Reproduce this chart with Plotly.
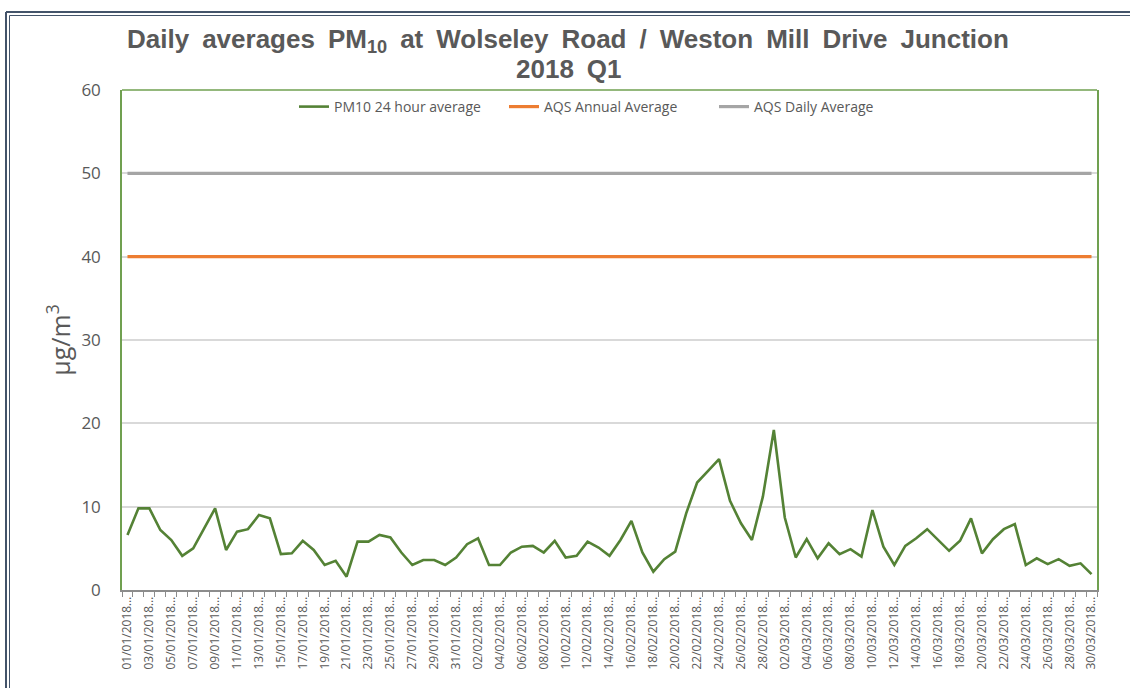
import pandas as pd
import plotly.graph_objects as go

# ---- data ----
dates = [d.strftime("%d/%m/%Y") for d in pd.date_range("2018-01-01", "2018-03-30", freq="D")]

pm10 = [
    6.6, 9.8, 9.8, 7.2, 6.0, 4.1, 5.0, 7.4, 9.8, 4.8,
    7.0, 7.3, 9.0, 8.6, 4.3, 4.4, 5.9, 4.8, 3.0, 3.5,
    1.6, 5.8, 5.8, 6.6, 6.3, 4.5, 3.0, 3.6, 3.6, 3.0,
    3.9, 5.5, 6.2, 3.0, 3.0, 4.5, 5.2, 5.3, 4.5, 5.9,
    3.9, 4.1, 5.8, 5.1, 4.1, 6.0, 8.3, 4.5, 2.2, 3.7,
    4.6, 9.2, 12.9, 14.3, 15.7, 10.7, 8.0, 6.0, 11.2, 19.2,
    8.7, 3.9, 6.1, 3.8, 5.6, 4.3, 4.9, 4.0, 9.6, 5.2,
    3.0, 5.3, 6.2, 7.3, 6.0, 4.7, 5.9, 8.6, 4.4, 6.1,
    7.3, 7.9, 3.0, 3.8, 3.1, 3.7, 2.9, 3.2, 1.9,
]
aqs_annual = [40] * len(dates)
aqs_daily = [50] * len(dates)

tick_text = [d + "\u2026" if i % 2 == 0 else "" for i, d in enumerate(dates)]

title_line1 = "Daily averages PM<sub>10</sub> at Wolseley Road / Weston Mill Drive Junction"
title_line2 = "2018 Q1"

GREEN = "#548235"
ORANGE = "#ED7D31"
GREY = "#A5A5A5"
TXT = "#595959"
FRAME = "#44546A"
BORDER = "#70A050"

fig = go.Figure()
fig.add_trace(go.Scatter(x=dates, y=pm10, mode="lines", name="PM10 24 hour average",
                         line=dict(color=GREEN, width=2.6)))
fig.add_trace(go.Scatter(x=dates, y=aqs_annual, mode="lines", name="AQS Annual Average",
                         line=dict(color=ORANGE, width=3.2)))
fig.add_trace(go.Scatter(x=dates, y=aqs_daily, mode="lines", name="AQS Daily Average",
                         line=dict(color=GREY, width=3.2)))

L, R, T, B = 122, 1097, 90, 590
W, H = 1130, 688
pw, ph = R - L, B - T


def px(x):
    return (x - L) / pw


def py(y):
    return (B - y) / ph


shapes = [
    # plot area top border
    dict(type="line", xref="paper", yref="paper", x0=0, x1=1, y0=1, y1=1,
         line=dict(color=BORDER, width=1.5)),
    # outer double frame (left + top)
    dict(type="line", xref="paper", yref="paper", x0=px(6), x1=px(6), y0=py(12), y1=py(720),
         line=dict(color=FRAME, width=2)),
    dict(type="line", xref="paper", yref="paper", x0=px(9.5), x1=px(9.5), y0=py(15.5), y1=py(720),
         line=dict(color=FRAME, width=1)),
    dict(type="line", xref="paper", yref="paper", x0=px(6), x1=px(1140), y0=py(12), y1=py(12),
         line=dict(color=FRAME, width=2)),
    dict(type="line", xref="paper", yref="paper", x0=px(9.5), x1=px(1140), y0=py(15.5), y1=py(15.5),
         line=dict(color=FRAME, width=1)),
]

title_font = dict(family="Liberation Sans, Arial, sans-serif", size=26, color=TXT)
annotations = [
    dict(text="<b>" + title_line1.replace(" ", "\u2002") + "</b>", xref="paper", yref="paper",
         x=px(568), y=py(41), xanchor="center", yanchor="middle", showarrow=False, font=title_font),
    dict(text="<b>" + title_line2.replace(" ", "\u2002") + "</b>", xref="paper", yref="paper",
         x=px(569), y=py(69), xanchor="center", yanchor="middle", showarrow=False, font=title_font),
]

fig.update_layout(
    width=W, height=H,
    margin=dict(l=L, r=W - R, t=T, b=H - B),
    paper_bgcolor="white", plot_bgcolor="white",
    font=dict(family="Open Sans, Noto Sans, sans-serif", color=TXT),
    showlegend=True,
    legend=dict(orientation="h", x=px(609), xanchor="center", y=py(107), yanchor="middle",
                font=dict(size=14, color=TXT), bgcolor="rgba(0,0,0,0)",
                itemwidth=30, entrywidth=165, entrywidthmode="pixels"),
    shapes=shapes,
    annotations=annotations,
)

fig.update_xaxes(
    type="category",
    tickmode="array", tickvals=dates, ticktext=tick_text,
    tickangle=-90, tickfont=dict(size=12, color=TXT),
    ticks="outside", ticklen=5, tickcolor="#8C8C8C", tickson="boundaries",
    showline=True, linecolor="#8C8C8C", linewidth=1.5,
    showgrid=False, zeroline=False,
    range=[-0.5, len(dates) - 0.5],
)
fig.update_yaxes(
    range=[0, 60], dtick=10, tick0=0,
    tickfont=dict(size=17, color=TXT), ticklabelstandoff=16,
    showgrid=True, gridcolor="#D9D9D9", gridwidth=1.5,
    showline=True, linecolor=BORDER, linewidth=1.5, mirror=True,
    zeroline=False, ticks="",
    title=dict(text="\u00b5g/m<sup>3</sup>", font=dict(size=25, color=TXT), standoff=4),
)

fig.write_html("out.html", config={"displayModeBar": False},
               post_script="document.body.style.margin='0';")
